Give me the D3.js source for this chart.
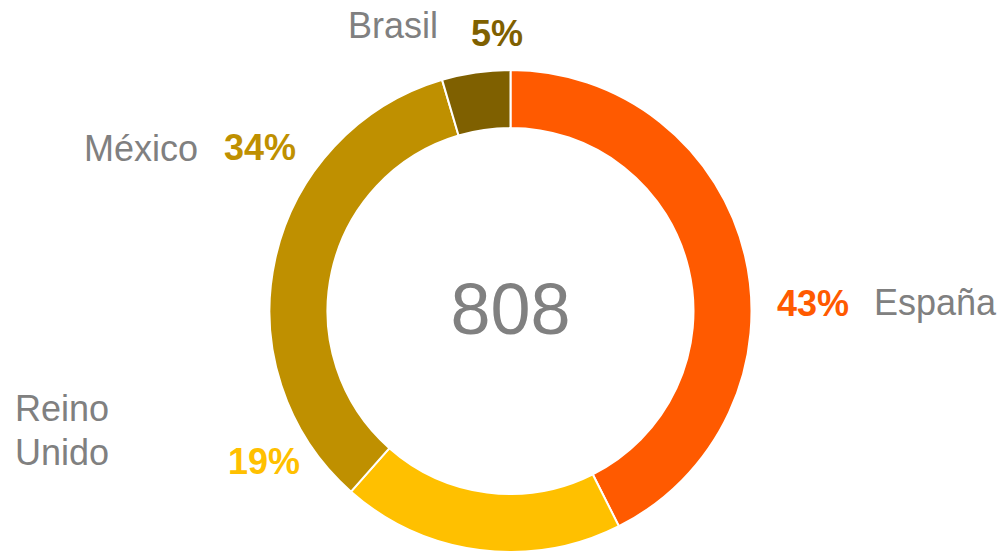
<!DOCTYPE html>
<html>
<head>
<meta charset="utf-8">
<script src="https://cdn.jsdelivr.net/npm/d3@7"></script>
<style>
  body { margin: 0; background: #fff; }
  svg { display: block; font-family: "Liberation Sans", Arial, sans-serif; }
</style>
</head>
<body>
<div class="graph"></div>
<script>
// data
var countries = ["España", "Reino Unido", "México", "Brasil"]
var counts = [344, 153, 274, 37]
var total_label = "808"

var colors = ["#FF5A00", "#FFC000", "#BF9000", "#7F6000"]

var w = 1005
var h = 552
var cx = 510.5
var cy = 311
var outer = 241
var inner = 183

// where excel put each label: name and percent, baseline positions
var label_pos = {
  "España":      { name: [874, 315, "start"], pct: [777, 316, "start"] },
  "Reino Unido": { name: [15, 421, "start"], pct: [228, 474, "start"] },
  "México":      { name: [84, 161, "start"], pct: [224, 160, "start"] },
  "Brasil":      { name: [348, 38, "start"], pct: [471, 46, "start"] }
}

var sum = d3.sum(counts)
var data = countries.map(function(c, i){
  return { name: c, value: counts[i], color: colors[i] }
})

var svg = d3.select(".graph")
              .append("svg")
              .attr("width", w)
              .attr("height", h)

var pie = d3.pie()
  .sort(null)
  .value(function(d){ return d.value })

var arc = d3.arc()
  .innerRadius(inner)
  .outerRadius(outer)

var g = svg.append("g")
  .attr("transform", "translate(" + cx + "," + cy + ")")

g.selectAll("path")
  .data(pie(data))
  .enter()
  .append("path")
  .attr("d", arc)
  .attr("fill", function(d){ return d.data.color })
  .attr("stroke", "#fff")
  .attr("stroke-width", 2)

g.append("text")
  .text(total_label)
  .attr("x", 0)
  .attr("y", 334 - cy)
  .attr("text-anchor", "middle")
  .attr("font-size", 72)
  .attr("fill", "#808080")

data.forEach(function(d){
  var p = label_pos[d.name]
  var pct = Math.round(d.value / sum * 100) + "%"
  var nameText = svg.append("text")
    .attr("x", p.name[0])
    .attr("y", p.name[1])
    .attr("text-anchor", p.name[2])
    .attr("font-size", 36)
    .attr("fill", "#808080")
  var words = d.name.split(" ")
  if (d.name == "Reino Unido") {
    words.forEach(function(wd, i){
      nameText.append("tspan")
        .attr("x", p.name[0])
        .attr("dy", i == 0 ? 0 : 44)
        .text(wd)
    })
  } else {
    nameText.text(d.name)
  }
  svg.append("text")
    .text(pct)
    .attr("x", p.pct[0])
    .attr("y", p.pct[1])
    .attr("text-anchor", p.pct[2])
    .attr("font-size", 36)
    .attr("font-weight", "bold")
    .attr("fill", d.color)
})
</script>
</body>
</html>
